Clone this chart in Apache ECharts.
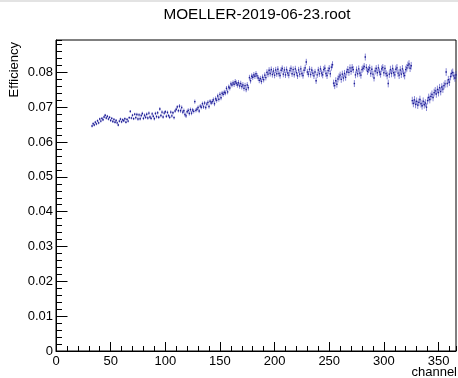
<!DOCTYPE html>
<html>
<head>
<meta charset="utf-8">
<script src="https://cdn.jsdelivr.net/npm/echarts@6/dist/echarts.min.js"></script>
<style>
  html, body { margin: 0; padding: 0; background: #fff; }
  #chart { width: 458px; height: 378px; }
</style>
</head>
<body>
<div id="chart"></div>
<script>
// first channel with an entry, one value per channel after that
const firstChannel = 33;

const efficiency = [
  0.0646, 0.0653, 0.0649, 0.0657, 0.0652, 0.0661, 0.0655, 0.0666, 0.0660, 0.0668,
  0.0664, 0.0672, 0.0677, 0.0669, 0.0674, 0.0666, 0.0671, 0.0662, 0.0668, 0.0659,
  0.0665, 0.0657, 0.0662, 0.0655, 0.0649, 0.0660, 0.0666, 0.0658, 0.0664, 0.0661,
  0.0667, 0.0657, 0.0665, 0.0660, 0.0670, 0.0688, 0.0669, 0.0677, 0.0667, 0.0680,
  0.0670, 0.0679, 0.0666, 0.0678, 0.0667, 0.0676, 0.0682, 0.0668, 0.0677, 0.0671,
  0.0680, 0.0669, 0.0683, 0.0672, 0.0668, 0.0681, 0.0674, 0.0667, 0.0682, 0.0673,
  0.0684, 0.0671, 0.0695, 0.0676, 0.0686, 0.0672, 0.0683, 0.0687, 0.0674, 0.0685,
  0.0676, 0.0671, 0.0686, 0.0675, 0.0684, 0.0670, 0.0689, 0.0694, 0.0701, 0.0690,
  0.0703, 0.0690, 0.0699, 0.0686, 0.0690, 0.0679, 0.0675, 0.0687, 0.0691, 0.0682,
  0.0693, 0.0683, 0.0692, 0.0688, 0.0716, 0.0691, 0.0694, 0.0699, 0.0689, 0.0703,
  0.0700, 0.0710, 0.0701, 0.0712, 0.0699, 0.0709, 0.0714, 0.0702, 0.0717, 0.0712,
  0.0716, 0.0721, 0.0710, 0.0724, 0.0720, 0.0732, 0.0723, 0.0737, 0.0727, 0.0740,
  0.0737, 0.0743, 0.0741, 0.0754, 0.0744, 0.0758, 0.0755, 0.0767, 0.0764, 0.0770,
  0.0766, 0.0773, 0.0769, 0.0764, 0.0770, 0.0761, 0.0768, 0.0759, 0.0764, 0.0754,
  0.0762, 0.0751, 0.0764, 0.0756, 0.0785, 0.0776, 0.0789, 0.0786, 0.0793, 0.0789,
  0.0796, 0.0790, 0.0784, 0.0777, 0.0782, 0.0774, 0.0786, 0.0779, 0.0792, 0.0785,
  0.0800, 0.0795, 0.0806, 0.0797, 0.0808, 0.0794, 0.0804, 0.0792, 0.0807, 0.0796,
  0.0809, 0.0797, 0.0791, 0.0806, 0.0811, 0.0795, 0.0807, 0.0793, 0.0808, 0.0798,
  0.0792, 0.0805, 0.0811, 0.0796, 0.0808, 0.0794, 0.0810, 0.0799, 0.0790, 0.0807,
  0.0795, 0.0810, 0.0797, 0.0791, 0.0806, 0.0813, 0.0830, 0.0801, 0.0795, 0.0809,
  0.0794, 0.0807, 0.0798, 0.0790, 0.0801, 0.0776, 0.0793, 0.0807, 0.0796, 0.0810,
  0.0798, 0.0793, 0.0808, 0.0812, 0.0797, 0.0791, 0.0805, 0.0811, 0.0796, 0.0815,
  0.0822, 0.0769, 0.0762, 0.0776, 0.0766, 0.0781, 0.0787, 0.0792, 0.0780, 0.0795,
  0.0784, 0.0797, 0.0786, 0.0801, 0.0808, 0.0800, 0.0813, 0.0803, 0.0814, 0.0808,
  0.0768, 0.0793, 0.0807, 0.0796, 0.0810, 0.0798, 0.0792, 0.0808, 0.0812, 0.0817,
  0.0844, 0.0814, 0.0803, 0.0808, 0.0813, 0.0797, 0.0809, 0.0795, 0.0784, 0.0804,
  0.0811, 0.0799, 0.0813, 0.0801, 0.0795, 0.0810, 0.0814, 0.0799, 0.0811, 0.0797,
  0.0791, 0.0768, 0.0795, 0.0808, 0.0797, 0.0811, 0.0799, 0.0793, 0.0809, 0.0813,
  0.0798, 0.0792, 0.0807, 0.0795, 0.0810, 0.0797, 0.0791, 0.0808, 0.0813, 0.0820,
  0.0824, 0.0812, 0.0819, 0.0719, 0.0711, 0.0721, 0.0708, 0.0717, 0.0706, 0.0714,
  0.0722, 0.0710, 0.0704, 0.0717, 0.0707, 0.0712, 0.0700, 0.0719, 0.0728, 0.0722,
  0.0731, 0.0737, 0.0728, 0.0742, 0.0747, 0.0738, 0.0751, 0.0742, 0.0756, 0.0745,
  0.0758, 0.0752, 0.0762, 0.0767, 0.0801, 0.0768, 0.0779, 0.0772, 0.0788, 0.0797,
  0.0800, 0.0790, 0.0784, 0.0793
];

// error bar half-height, one per block of 10 channels (last block is short)
const errorPerBlock = [
  0.0004, 0.0004, 0.0004, 0.0004, 0.0005, 0.0005, 0.0005, 0.0005, 0.0006, 0.0006,
  0.0006, 0.0007, 0.0007, 0.0008, 0.0008, 0.0008, 0.0009, 0.0009, 0.0009, 0.0009,
  0.0009, 0.0010, 0.0010, 0.0010, 0.0010, 0.0010, 0.0010, 0.0011, 0.0011, 0.0011,
  0.0011, 0.0011, 0.0011, 0.0011
];

const xMax = 366;
const yMax = 0.0893;

const points = efficiency.map((v, i) => [firstChannel + i, v, errorPerBlock[Math.floor(i / 10)]]);

const font = 'Liberation Sans, Arial, Helvetica, sans-serif';
const labelStyle = { color: '#000', fontSize: 13, fontFamily: font };

const option = {
  backgroundColor: '#fff',
  animation: false,
  grid: {
    left: 56,
    right: 2,
    top: 40,
    bottom: 27,
    show: true,
    borderColor: '#000',
    borderWidth: 1,
  },
  xAxis: [
    {
      // minor ticks
      type: 'value',
      position: 'bottom',
      min: 0,
      max: xMax,
      interval: 10,
      axisLine: { show: true, lineStyle: { color: '#000' } },
      axisTick: { inside: true, length: 5, lineStyle: { color: '#000' } },
      axisLabel: { show: false },
      splitLine: { show: false },
    },
    {
      // major ticks and labels
      type: 'value',
      position: 'bottom',
      min: 0,
      max: xMax,
      interval: 50,
      axisLine: { show: false },
      axisTick: { inside: true, length: 9, lineStyle: { color: '#000' } },
      axisLabel: Object.assign({ margin: 4, showMaxLabel: false }, labelStyle),
      splitLine: { show: false },
    },
  ],
  yAxis: [
    {
      type: 'value',
      position: 'left',
      min: 0,
      max: yMax,
      interval: 0.002,
      axisLine: { show: true, lineStyle: { color: '#000' } },
      axisTick: { inside: true, length: 6, lineStyle: { color: '#000' } },
      axisLabel: { show: false },
      splitLine: { show: false },
    },
    {
      type: 'value',
      position: 'left',
      min: 0,
      max: yMax,
      interval: 0.01,
      axisLine: { show: false },
      axisTick: { inside: true, length: 11.5, lineStyle: { color: '#000' } },
      axisLabel: Object.assign({ margin: 3, showMaxLabel: false }, labelStyle),
      splitLine: { show: false },
    },
  ],
  graphic: [
    {
      type: 'rect',
      shape: { x: 0, y: 0.5, width: 458, height: 1 },
      style: { fill: '#c8c8c8' },
    },
    {
      type: 'text',
      x: 257,
      y: 15,
      style: {
        text: 'MOELLER-2019-06-23.root',
        fontSize: 15.3,
        fontFamily: font,
        fill: '#000',
        textAlign: 'center',
        textVerticalAlign: 'middle',
      },
    },
    {
      type: 'text',
      x: 14,
      y: 42,
      rotation: Math.PI / 2,
      style: {
        text: 'Efficiency',
        fontSize: 13,
        fontFamily: font,
        fill: '#000',
        textAlign: 'right',
        textVerticalAlign: 'middle',
      },
    },
    {
      type: 'text',
      x: 457,
      y: 372.5,
      style: {
        text: 'channel',
        fontSize: 13,
        fontFamily: font,
        fill: '#000',
        textAlign: 'right',
        textVerticalAlign: 'middle',
      },
    },
  ],
  series: [
    {
      type: 'custom',
      xAxisIndex: 0,
      yAxisIndex: 0,
      data: points,
      renderItem: (params, api) => {
        const x = api.value(0);
        const y = api.value(1);
        const e = api.value(2);
        const c = api.coord([x, y]);
        const hi = api.coord([x, y + e]);
        const lo = api.coord([x, y - e]);
        return {
          type: 'group',
          children: [
            {
              type: 'line',
              shape: { x1: c[0], y1: hi[1], x2: c[0], y2: lo[1] },
              style: { stroke: 'rgba(55,55,185,0.6)', lineWidth: 1 },
            },
            {
              type: 'rect',
              shape: { x: c[0] - 0.7, y: c[1] - 0.7, width: 1.4, height: 1.4 },
              style: { fill: '#1e1e92' },
            },
          ],
        };
      },
    },
  ],
};

const chart = echarts.init(document.getElementById('chart'));
chart.setOption(option);
</script>
</body>
</html>
